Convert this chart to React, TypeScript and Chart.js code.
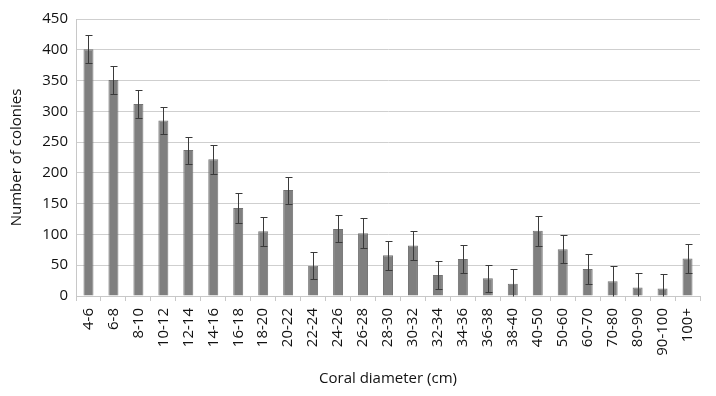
import React, { useEffect, useRef } from "react";
import { Chart, registerables } from "chart.js";

Chart.register(...registerables);

const categories = [
  "4-6", "6-8", "8-10", "10-12", "12-14", "14-16", "16-18", "18-20", "20-22",
  "22-24", "24-26", "26-28", "28-30", "30-32", "32-34", "34-36", "36-38",
  "38-40", "40-50", "50-60", "60-70", "70-80", "80-90", "90-100", "100+",
];
const colonies = [
  401, 351, 312, 285, 237, 222, 143, 105, 172, 49, 109, 102, 66, 82, 34, 60,
  29, 20, 106, 76, 44, 24, 14, 12, 61,
];
const errors = [
  23, 23, 23, 22, 22, 24, 24, 24, 22, 22, 22, 24, 24, 23, 23, 23, 22, 24, 24,
  23, 24, 24, 23, 23, 23,
];
const yMin = 0;
const yMax = 450;
const yStep = 50;
const xTitle = "Coral diameter (cm)";
const yTitle = "Number of colonies";

const FONT = "'Open Sans', sans-serif";
const TEXT = "#111111";

const errorBarPlugin = {
  id: "errorBars",
  afterDatasetsDraw(chart: any) {
    const ctx = chart.ctx;
    const meta = chart.getDatasetMeta(0);
    const y = chart.scales.y;
    ctx.save();
    ctx.strokeStyle = "#3a3a3a";
    ctx.lineWidth = 1;
    meta.data.forEach((bar: any, i: number) => {
      const v = colonies[i];
      const e = errors[i];
      const x = Math.round(bar.x) + 0.5;
      const top = Math.round(y.getPixelForValue(v + e)) + 0.5;
      const bot = Math.round(y.getPixelForValue(Math.max(yMin, v - e))) + 0.5;
      ctx.beginPath();
      ctx.moveTo(x, top);
      ctx.lineTo(x, bot);
      ctx.moveTo(x - 3, top);
      ctx.lineTo(x + 4, top);
      if (v - e > yMin) {
        ctx.moveTo(x - 3, bot);
        ctx.lineTo(x + 4, bot);
      }
      ctx.stroke();
    });
    ctx.restore();
  },
};

export default function App() {
  const ref = useRef<HTMLCanvasElement>(null);
  useEffect(() => {
    if (!ref.current) return;
    const chart = new Chart(ref.current, {
      type: "bar",
      data: {
        labels: categories,
        datasets: [
          {
            data: colonies,
            backgroundColor: "#7f7f7f",
            borderColor: "#737373",
            borderWidth: 1,
            categoryPercentage: 1,
            barPercentage: 0.4,
          },
        ],
      },
      options: {
        animation: false,
        responsive: true,
        maintainAspectRatio: false,
        layout: { padding: { top: 19, right: 16, left: 0, bottom: 0 } },
        plugins: { legend: { display: false }, tooltip: { enabled: false } },
        scales: {
          x: {
            afterFit: (s: any) => {
              s.height = 100;
            },
            grid: {
              offset: true,
              drawOnChartArea: false,
              drawTicks: true,
              tickLength: 5,
              color: "#c8c8c8",
            },
            border: { color: "#c8c8c8" },
            ticks: {
              minRotation: 90,
              maxRotation: 90,
              autoSkip: false,
              padding: 7,
              color: TEXT,
              font: { family: FONT, size: 15 },
            },
            title: {
              display: true,
              text: xTitle,
              color: TEXT,
              font: { family: FONT, size: 15 },
              padding: { top: 0, bottom: 8 },
            },
          },
          y: {
            min: yMin,
            max: yMax,
            afterFit: (s: any) => {
              s.width = 76;
            },
            ticks: {
              stepSize: yStep,
              padding: 8,
              color: TEXT,
              font: { family: FONT, size: 15 },
            },
            grid: { color: "#cfcfcf", drawTicks: false },
            border: { color: "#c8c8c8" },
            title: {
              display: true,
              text: yTitle,
              color: TEXT,
              font: { family: FONT, size: 15 },
              padding: { top: 8, bottom: 0 },
            },
          },
        },
      },
      plugins: [errorBarPlugin],
    });
    return () => chart.destroy();
  }, []);
  return (
    <div style={{ position: "absolute", left: 0, top: 0, width: 716, height: 396 }}>
      <canvas ref={ref} />
    </div>
  );
}
